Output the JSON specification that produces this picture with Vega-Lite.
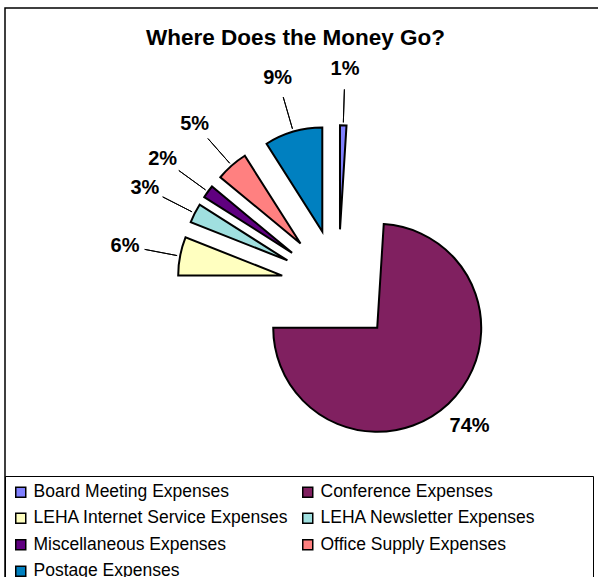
{
  "$schema": "https://vega.github.io/schema/vega-lite/v6.json",
  "width": 593,
  "height": 569,
  "padding": {"left": 5, "top": 8, "right": 0, "bottom": 0},
  "autosize": {"type": "none"},
  "background": "white",
  "config": {
    "view": {"stroke": null},
    "font": "Liberation Sans"
  },
  "title": {
    "text": "Where Does the Money Go?",
    "font": "Liberation Sans",
    "fontSize": 22.5,
    "fontWeight": "bold",
    "color": "black",
    "anchor": "middle",
    "frame": "group",
    "dx": -6,
    "offset": -42
  },
  "data": {
    "values": [
      {"category": "Board Meeting Expenses", "share": 0.01},
      {"category": "Conference Expenses", "share": 0.74},
      {"category": "LEHA Internet Service Expenses", "share": 0.06},
      {"category": "LEHA Newsletter Expenses", "share": 0.03},
      {"category": "Miscellaneous Expenses", "share": 0.02},
      {"category": "Office Supply Expenses", "share": 0.05},
      {"category": "Postage Expenses", "share": 0.09}
    ]
  },
  "layer": [
    {
      "data": {"values": [{"frame": "chart area"}]},
      "mark": {"type": "rect", "fill": null, "fillOpacity": 0, "stroke": "black", "strokeWidth": 1.5},
      "encoding": {
        "x": {"value": 0},
        "x2": {"value": {"expr": "width + 10"}},
        "y": {"value": 0},
        "y2": {"value": {"expr": "height + 10"}}
      }
    },
    {
      "mark": {
        "type": "arc",
        "radius": 104,
        "stroke": "black",
        "strokeWidth": 2,
        "x": {"expr": "width/2 + 36.7 + 57*sin(scale('theta', (datum.share_start + datum.share_end)/2))"},
        "y": {"expr": "height/2 - 6.2 - 57*cos(scale('theta', (datum.share_start + datum.share_end)/2))"}
      },
      "encoding": {
        "theta": {"field": "share", "type": "quantitative", "stack": true},
        "order": {"field": "category", "type": "ordinal", "sort": "ascending"},
        "color": {
          "field": "category",
          "type": "nominal",
          "scale": {
            "domain": ["Board Meeting Expenses", "Conference Expenses", "LEHA Internet Service Expenses", "LEHA Newsletter Expenses", "Miscellaneous Expenses", "Office Supply Expenses", "Postage Expenses"],
            "range": ["#8080FF", "#802060", "#FFFFC0", "#A0E0E0", "#600080", "#FF8080", "#0080C0"]
          },
          "legend": {
            "title": " ",
            "titleOrient": "right",
            "titlePadding": 51,
            "titleFontSize": 4,
            "orient": "none",
            "legendX": 0,
            "legendY": 468,
            "direction": "horizontal",
            "columns": 2,
            "columnPadding": 10,
            "rowPadding": 7.5,
            "padding": 7,
            "symbolType": "square",
            "symbolSize": 100,
            "symbolStrokeColor": "black",
            "symbolStrokeWidth": 1.5,
            "symbolOpacity": 1,
            "labelFont": "Liberation Sans",
            "labelFontSize": 17.5,
            "labelColor": "black",
            "labelOffset": 4,
            "labelLimit": 0,
            "strokeColor": "black"
          }
        }
      }
    },
    {
      "mark": {
        "type": "arc",
        "radius": 140,
        "radius2": 107,
        "padAngle": 3,
        "fillOpacity": 0,
        "stroke": "black",
        "strokeWidth": 1,
        "x": {"expr": "width/2 + 36.7 + 57*sin(scale('theta', (datum.share_start + datum.share_end)/2))"},
        "y": {"expr": "height/2 - 6.2 - 57*cos(scale('theta', (datum.share_start + datum.share_end)/2))"}
      },
      "encoding": {
        "theta": {"field": "share", "type": "quantitative", "stack": true},
        "order": {"field": "category", "type": "ordinal", "sort": "ascending"},
        "detail": {"field": "category", "type": "nominal"},
        "strokeOpacity": {"condition": {"test": "datum.share > 0.5", "value": 0}, "value": 1}
      }
    },
    {
      "mark": {
        "type": "text",
        "font": "Liberation Sans",
        "fontSize": 20,
        "fontWeight": "bold",
        "color": "black",
        "align": "center",
        "baseline": "middle",
        "radius": {"expr": "datum.share > 0.5 ? 135 : 160"},
        "x": {"expr": "width/2 + 36.7 + 57*sin(scale('theta', (datum.share_start + datum.share_end)/2))"},
        "y": {"expr": "height/2 - 6.2 - 57*cos(scale('theta', (datum.share_start + datum.share_end)/2))"}
      },
      "encoding": {
        "theta": {"field": "share", "type": "quantitative", "stack": true},
        "order": {"field": "category", "type": "ordinal", "sort": "ascending"},
        "detail": {"field": "category", "type": "nominal"},
        "text": {"field": "share", "type": "quantitative", "format": ".0%"}
      }
    }
  ]
}
